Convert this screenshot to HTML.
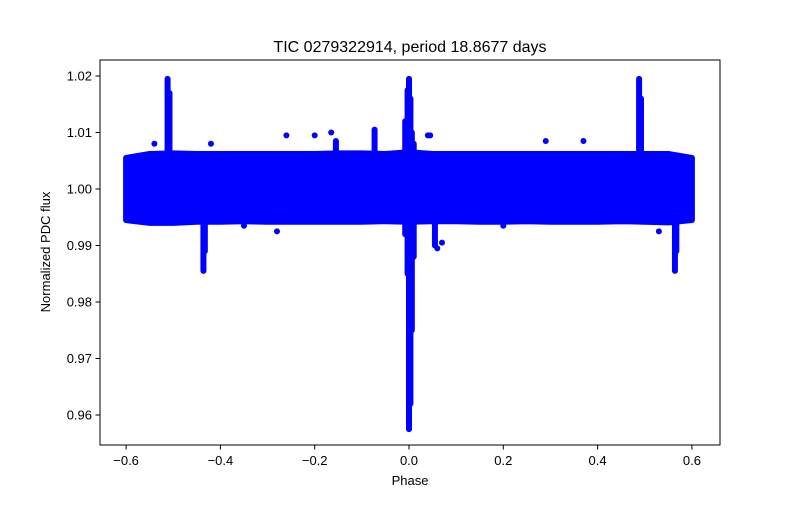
<!DOCTYPE html>
<html><head><meta charset="utf-8"><style>
body{margin:0;background:#fff;}
svg text{font-family:"Liberation Sans","DejaVu Sans",sans-serif;}
</style></head><body>
<svg id="chart" width="800" height="500" xmlns="http://www.w3.org/2000/svg">
<rect width="800" height="500" fill="#fff"/>
<g id="marks"></g>
<rect x="100" y="60" width="620" height="385" fill="none" stroke="#000" stroke-width="1"/>
<g id="axes"></g>
<text x="410" y="52" font-size="16" text-anchor="middle">TIC 0279322914, period 18.8677 days</text>
<text x="410" y="485" font-size="13" text-anchor="middle">Phase</text>
<text x="50" y="252" font-size="13" text-anchor="middle" transform="rotate(-90 50 252)">Normalized PDC flux</text>
</svg>
<script>
// Band envelope of the dense scatter
const bandPhase = [-0.6,-0.55,-0.5,-0.45,-0.4,-0.35,-0.3,-0.25,-0.2,-0.15,-0.1,-0.05,0,0.05,0.1,0.15,0.2,0.25,0.3,0.35,0.4,0.45,0.5,0.55,0.6];
const bandLow  = [0.9945,0.9940,0.9940,0.9942,0.9942,0.9943,0.9942,0.9942,0.9942,0.9942,0.9942,0.9943,0.9942,0.9943,0.9943,0.9942,0.9942,0.9943,0.9942,0.9942,0.9942,0.9943,0.9942,0.9941,0.9945];
const bandHigh = [1.0055,1.0062,1.0063,1.0062,1.0062,1.0062,1.0062,1.0062,1.0062,1.0063,1.0063,1.0062,1.0065,1.0062,1.0062,1.0062,1.0062,1.0062,1.0062,1.0062,1.0062,1.0062,1.0062,1.0062,1.0055];
// Transit / flare features: phase, min flux, max flux
const featPhase = [-0.512,-0.508,-0.436,-0.433,-0.155,-0.073,-0.008,-0.003,0.0,0.003,0.006,0.010,0.055,0.488,0.492,0.564,0.567];
const featLow   = [0.996,0.995,0.9855,0.989,0.995,0.995,0.992,0.985,0.9575,0.962,0.975,0.988,0.990,0.996,0.996,0.9855,0.989];
const featHigh  = [1.0195,1.017,0.999,1.0,1.0085,1.0105,1.012,1.0175,1.0195,1.016,1.010,1.008,1.0,1.0195,1.016,1.0,1.0];
// Isolated outlier points
const outPhase = [-0.54,-0.42,-0.26,-0.2,-0.165,0.04,0.045,0.29,0.37,0.06,0.07,-0.28,0.53,-0.35,0.2];
const outFlux  = [1.008,1.008,1.0095,1.0095,1.010,1.0095,1.0095,1.0085,1.0085,0.9895,0.9905,0.9925,0.9925,0.9935,0.9935];
const xTicks = [-0.6,-0.4,-0.2,0.0,0.2,0.4,0.6];
const xTickLabels = ["\u22120.6","\u22120.4","\u22120.2","0.0","0.2","0.4","0.6"];
const yTicks = [0.96,0.97,0.98,0.99,1.00,1.01,1.02];
const yTickLabels = ["0.96","0.97","0.98","0.99","1.00","1.01","1.02"];

const xs = p => 409 + p*471.5;
const ys = f => 189 - (f-1.0)*5650;
const NS='http://www.w3.org/2000/svg';
const marks=document.getElementById('marks');
const axes=document.getElementById('axes');
// band polygon
let pts=[];
for(let i=0;i<bandPhase.length;i++) pts.push(xs(bandPhase[i])+','+ys(bandHigh[i]));
for(let i=bandPhase.length-1;i>=0;i--) pts.push(xs(bandPhase[i])+','+ys(bandLow[i]));
const band=document.createElementNS(NS,'polygon');
band.setAttribute('points',pts.join(' '));
band.setAttribute('fill','#0000ff');band.setAttribute('stroke','#0000ff');
band.setAttribute('stroke-width','6');band.setAttribute('stroke-linejoin','round');


marks.appendChild(band);
for(let i=0;i<featPhase.length;i++){
  const l=document.createElementNS(NS,'line');
  l.setAttribute('x1',xs(featPhase[i]));l.setAttribute('x2',xs(featPhase[i]));
  l.setAttribute('y1',ys(featLow[i]));l.setAttribute('y2',ys(featHigh[i]));
  l.setAttribute('stroke','#0000ff');l.setAttribute('stroke-width','6');l.setAttribute('stroke-linecap','round');
  
  
  marks.appendChild(l);
}
for(let i=0;i<outPhase.length;i++){
  const c=document.createElementNS(NS,'circle');
  c.setAttribute('cx',xs(outPhase[i]));c.setAttribute('cy',ys(outFlux[i]));c.setAttribute('r','3');
  c.setAttribute('fill','#0000ff');
  
  
  marks.appendChild(c);
}
for(let i=0;i<xTicks.length;i++){
  const x=xs(xTicks[i]);
  const t=document.createElementNS(NS,'line');
  t.setAttribute('x1',x);t.setAttribute('x2',x);t.setAttribute('y1',445);t.setAttribute('y2',449.5);t.setAttribute('stroke','#000');
  
  
  axes.appendChild(t);
  const tx=document.createElementNS(NS,'text');
  tx.setAttribute('x',x);tx.setAttribute('y',465);tx.setAttribute('font-size','13');tx.setAttribute('text-anchor','middle');
  tx.textContent=xTickLabels[i];
  
  
  axes.appendChild(tx);
}
for(let i=0;i<yTicks.length;i++){
  const y=ys(yTicks[i]);
  const t=document.createElementNS(NS,'line');
  t.setAttribute('x1',95.5);t.setAttribute('x2',100);t.setAttribute('y1',y);t.setAttribute('y2',y);t.setAttribute('stroke','#000');
  
  
  axes.appendChild(t);
  const tx=document.createElementNS(NS,'text');
  tx.setAttribute('x',92);tx.setAttribute('y',y+4.5);tx.setAttribute('font-size','13');tx.setAttribute('text-anchor','end');
  tx.textContent=yTickLabels[i];
  
  
  axes.appendChild(tx);
}
</script>
</body></html>
